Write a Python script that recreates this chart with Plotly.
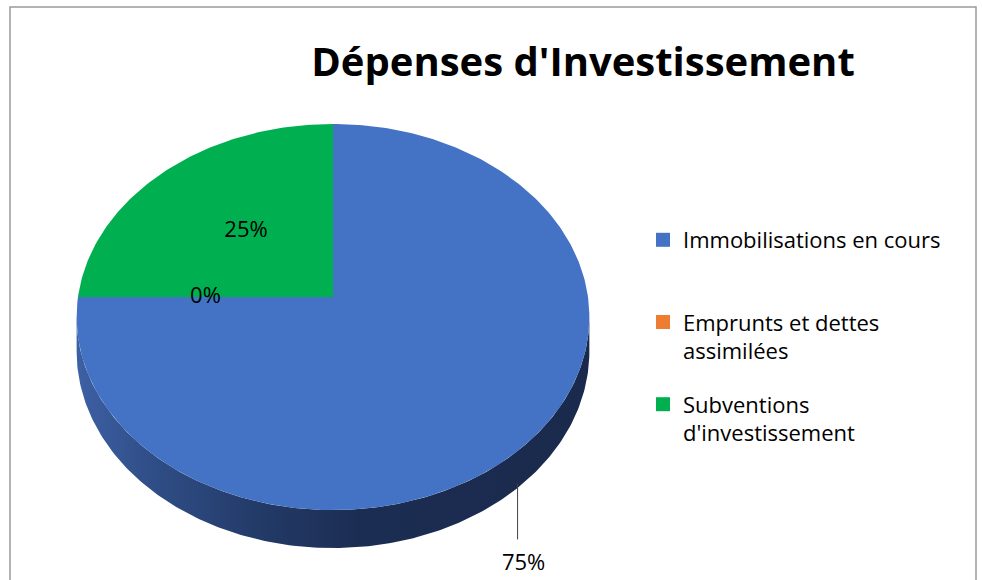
import numpy as np
import plotly.graph_objects as go

# Données du graphique
categories = ["Immobilisations en cours", "Emprunts et dettes assimilées", "Subventions d'investissement"]
legend_names = ["Immobilisations en cours<br> ", "Emprunts et dettes<br>assimilées", "Subventions<br>d'investissement"]
values = [75, 0, 25]

colors = ["#4472C4", "#ED7D31", "#00B050"]
label_mode = ["outside", "inside", "inside"]

W, H = 982, 580
FONT = "Open Sans"

# géométrie du "camembert 3D" (pixels)
CX, CY = 333, 297
RX, RY = 255, 191
K = 0.1037          # perspective
DEPTH = 34


def proj(r, theta, drop=0.0):
    u = r * np.sin(theta)
    v = r * np.cos(theta)
    f = 1 + K * v
    return CX + RX * u / f, CY - RY * v / f + drop / f


total = sum(values)
cum = np.concatenate([[0], np.cumsum(values)]) / total * 2 * np.pi
sil1 = np.arccos(-K)
sil2 = 2 * np.pi - sil1

fig = go.Figure()

# côtés (épaisseur)
for i, v in enumerate(values):
    a, b = max(cum[i], sil1), min(cum[i + 1], sil2)
    if b <= a:
        continue
    t = np.linspace(a, b, 200)
    xt, yt = proj(1, t)
    xb, yb = proj(1, t[::-1], DEPTH)
    fig.add_trace(go.Scatter(
        x=np.concatenate([xt, xb, xt[:1]]), y=np.concatenate([yt, yb, yt[:1]]),
        mode="lines", line=dict(width=0), fill="toself",
        fillgradient=dict(type="horizontal", start=CX - RX, stop=CX + RX,
                          colorscale=[[0, "#3d60a4"], [0.15, "#2f4d86"], [0.35, "#233b68"],
                                      [0.55, "#1c2d53"], [1, "#1a2a4c"]]),
        showlegend=False, hoverinfo="skip"))

# faces supérieures
for i, v in enumerate(values):
    if v == 0:
        continue
    t = np.linspace(cum[i], cum[i + 1], max(int(v * 4), 10))
    xs, ys = proj(1, t)
    fig.add_trace(go.Scatter(
        x=np.concatenate([[CX], xs, [CX]]), y=np.concatenate([[CY], ys, [CY]]),
        mode="lines", line=dict(width=0), fill="toself", fillcolor=colors[i],
        showlegend=False, name=categories[i],
        hovertemplate=f"{categories[i]}: {v}%<extra></extra>"))

# étiquettes de données
lx, ly = [], []
for i, v in enumerate(values):
    mid = (cum[i] + cum[i + 1]) / 2
    if label_mode[i] == "inside":
        x, y = proj(0.5, mid)
    else:
        x, y = proj(1, mid, DEPTH)
        x -= 10
        fig.add_trace(go.Scatter(x=[x, x], y=[y + 4, y + 60], mode="lines",
                                 line=dict(color="#404040", width=1),
                                 showlegend=False, hoverinfo="skip"))
        x, y = x + 6, y + 85
    lx.append(x)
    ly.append(y)

fig.add_trace(go.Scatter(x=lx, y=ly, mode="text", text=[f"{v}%" for v in values],
                         textfont=dict(family=FONT, size=22, color="#000000"),
                         showlegend=False, hoverinfo="skip"))

# légende
for i, name in enumerate(legend_names):
    fig.add_trace(go.Scatter(x=[None], y=[None], mode="markers", name=name,
                             legendgroup=str(i),
                             marker=dict(symbol="square", size=14, color=colors[i])))

fig.update_layout(
    width=W, height=H,
    margin=dict(l=0, r=0, t=0, b=0),
    paper_bgcolor="white", plot_bgcolor="white",
    xaxis=dict(range=[0, W], visible=False, fixedrange=True),
    yaxis=dict(range=[H, 0], visible=False, fixedrange=True),
    title=dict(text="<b>Dépenses d'Investissement</b>", x=583 / W, xanchor="center",
               y=1 - 62 / H, yanchor="middle",
               font=dict(family=FONT, size=40, color="#000000")),
    legend=dict(x=643 / W, y=1 - 219 / H, xanchor="left", yanchor="top",
                font=dict(family=FONT, size=22, color="#000000"),
                tracegroupgap=22, itemwidth=30, valign="top",
                bgcolor="rgba(0,0,0,0)"),
    shapes=[dict(type="rect", xref="x", yref="y", x0=10, x1=976, y0=7, y1=620,
                 line=dict(color="#9a9a9a", width=1.5))],
)

fig.write_html("out.html", config={"displayModeBar": False},
               post_script="document.body.style.margin='0';")
